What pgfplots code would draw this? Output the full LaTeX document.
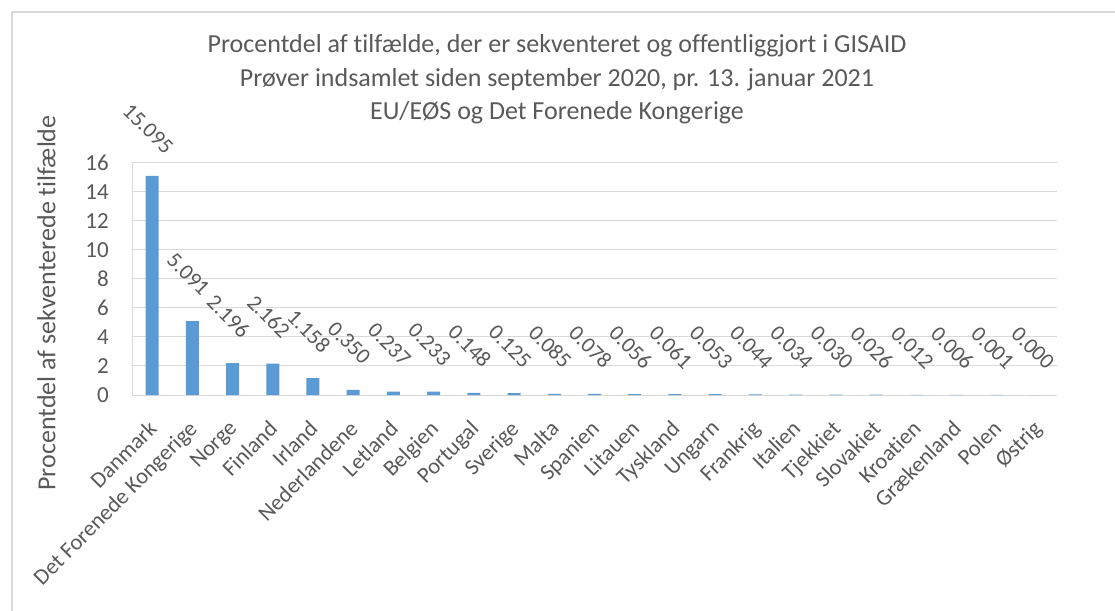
\documentclass[border=0pt]{standalone}
\usepackage{pgfplots}
\pgfplotsset{compat=1.18}
\usepackage{fontspec}
\setmainfont{Carlito}[Ligatures=NoCommon]
\definecolor{txt}{HTML}{595959}
\definecolor{barblue}{HTML}{5B9BD5}
\definecolor{gridgray}{HTML}{D9D9D9}
\begin{document}
\begin{tikzpicture}[x=1pt,y=1pt]
\path[use as bounding box] (0,0) rectangle (1115,-610);
\draw[gridgray, line width=1.2pt] (12,-611) -- (12,-12) -- (1116,-12);
\node[text=txt, font=\fontsize{26}{33.5}\selectfont, align=center] at (557,-79.5)
  {Procentdel af tilfælde, der er sekventeret og offentliggjort i GISAID\\
   Prøver indsamlet siden september 2020, pr. 13. januar 2021\\
   EU/EØS og Det Forenede Kongerige};
\begin{axis}[
  at={(132pt,-395pt)}, anchor=south west,
  scale only axis, width=925pt, height=232.3pt,
  xmin=-0.5, xmax=22.5, ymin=0, ymax=16,
  ytick={0,2,...,16},
  xtick={0,...,22},
  xticklabels={Danmark,Det Forenede Kongerige,Norge,Finland,Irland,Nederlandene,Letland,Belgien,Portugal,Sverige,Malta,Spanien,Litauen,Tyskland,Ungarn,Frankrig,Italien,Tjekkiet,Slovakiet,Kroatien,Grækenland,Polen,Østrig},
  xticklabel style={font=\fontsize{22.5}{24}\selectfont, text=txt, inner sep=0pt, anchor=north east, xshift=-5pt, yshift=-24pt, rotate=45},
  yticklabel style={font=\fontsize{23}{24}\selectfont, text=txt, inner sep=0pt, anchor=east, xshift=-23pt},
  /pgf/number format/assume math mode=true,
  axis x line*=bottom, axis y line*=left,
  x axis line style={draw=gridgray, line width=1pt},
  y axis line style={draw=gridgray, line width=1pt},
  xmajorgrids=false, ymajorgrids=true,
  major grid style={draw=gridgray, line width=1pt},
  major tick length=0pt,
  ylabel={Procentdel af sekventerede tilfælde},
  ylabel style={font=\fontsize{26}{28}\selectfont, text=txt, at={(axis description cs:-0.0925,0.396)}, anchor=center},
  ybar, bar width=13pt,
  point meta=explicit symbolic,
  nodes near coords,
  nodes near coords style={font=\fontsize{22}{24}\selectfont, text=txt, anchor=center, xshift=-4pt, yshift=47pt, rotate=-45},
]
\addplot[fill=barblue, draw=none] coordinates {
(0,15.095) [15.095]
(1,5.091) [5.091]
(2,2.196) [2.196]
(3,2.162) [2.162]
(4,1.158) [1.158]
(5,0.350) [0.350]
(6,0.237) [0.237]
(7,0.233) [0.233]
(8,0.148) [0.148]
(9,0.125) [0.125]
(10,0.085) [0.085]
(11,0.078) [0.078]
(12,0.056) [0.056]
(13,0.061) [0.061]
(14,0.053) [0.053]
(15,0.044) [0.044]
(16,0.034) [0.034]
(17,0.030) [0.030]
(18,0.026) [0.026]
(19,0.012) [0.012]
(20,0.006) [0.006]
(21,0.001) [0.001]
(22,0.000) [0.000]
};
\end{axis}
\end{tikzpicture}
\end{document}
